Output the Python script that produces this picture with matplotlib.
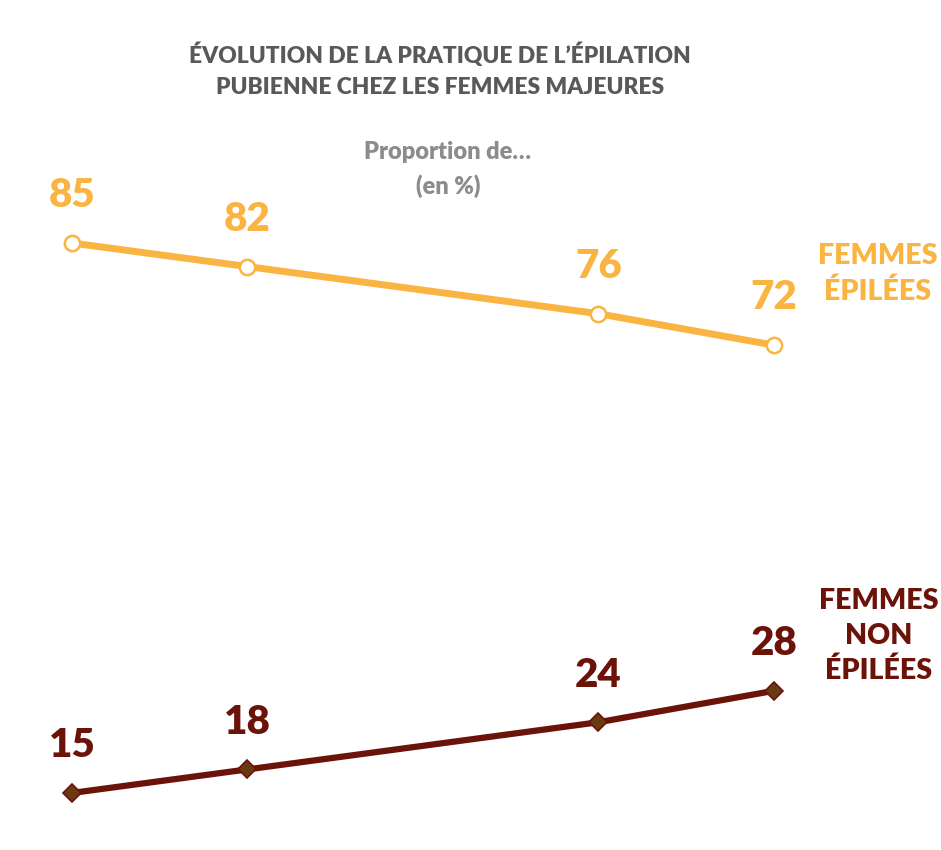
import matplotlib
matplotlib.use("Agg")
import matplotlib.pyplot as plt

# ===============================
# 1. Données
# ===============================
x_pos = [0, 1, 3, 4]          # position des vagues d'enquête (sans libellé)
epilees = [85, 82, 76, 72]
non_epilees = [15, 18, 24, 28]

ORANGE = "#FAB441"
BRUN = "#6B1209"
BRUN_MARK = "#6A3A12"
GRIS_TITRE = "#595959"
GRIS = "#8C8C8C"

plt.rcParams['font.family'] = ['Lato', 'DejaVu Sans']

# ===============================
# 2. Figure
# ===============================
fig = plt.figure(figsize=(9.41, 8.5), dpi=100)
ax = fig.add_axes([0, 0, 1, 1])
ax.set_xlim(-0.410, 4.952)
ax.set_ylim(7.74, 115.93)
ax.axis('off')

ax.plot(x_pos, epilees, color=ORANGE, lw=5, marker='o', ms=11,
        mfc='white', mec=ORANGE, mew=1.8, zorder=3)
ax.plot(x_pos, non_epilees, color=BRUN, lw=4.5, marker='D', ms=9,
        mfc=BRUN_MARK, mec=BRUN, mew=1.2, zorder=3)

for x, v in zip(x_pos, epilees):
    ax.annotate(str(v), (x, v), xytext=(0, 34), textcoords='offset points',
                ha='center', va='center', fontsize=29, fontweight='heavy',
                color=ORANGE)
for x, v in zip(x_pos, non_epilees):
    ax.annotate(str(v), (x, v), xytext=(0, 34), textcoords='offset points',
                ha='center', va='center', fontsize=29, fontweight='heavy',
                color=BRUN)

# titres
fig.text(440 / 941, 1 - 55 / 850, "ÉVOLUTION DE LA PRATIQUE DE L’ÉPILATION",
         ha='center', va='center', fontsize=16.4, fontweight='heavy', color=GRIS_TITRE)
fig.text(440 / 941, 1 - 88 / 850, "PUBIENNE CHEZ LES FEMMES MAJEURES",
         ha='center', va='center', fontsize=16.4, fontweight='heavy', color=GRIS_TITRE)
fig.text(448 / 941, 1 - 152 / 850, "Proportion de…",
         ha='center', va='center', fontsize=17, fontweight='heavy', color=GRIS)
fig.text(448 / 941, 1 - 186 / 850, "(en %)",
         ha='center', va='center', fontsize=17, fontweight='heavy', color=GRIS)

# étiquettes des séries
fig.text(878 / 941, 1 - 274 / 850, "FEMMES\nÉPILÉES", ha='center', va='center',
         fontsize=20.5, fontweight='heavy', color=ORANGE, linespacing=1.45)
fig.text(879 / 941, 1 - 636 / 850, "FEMMES\nNON\nÉPILÉES", ha='center', va='center',
         fontsize=20.5, fontweight='heavy', color=BRUN, linespacing=1.4)

fig.savefig("out.png", dpi=100)
